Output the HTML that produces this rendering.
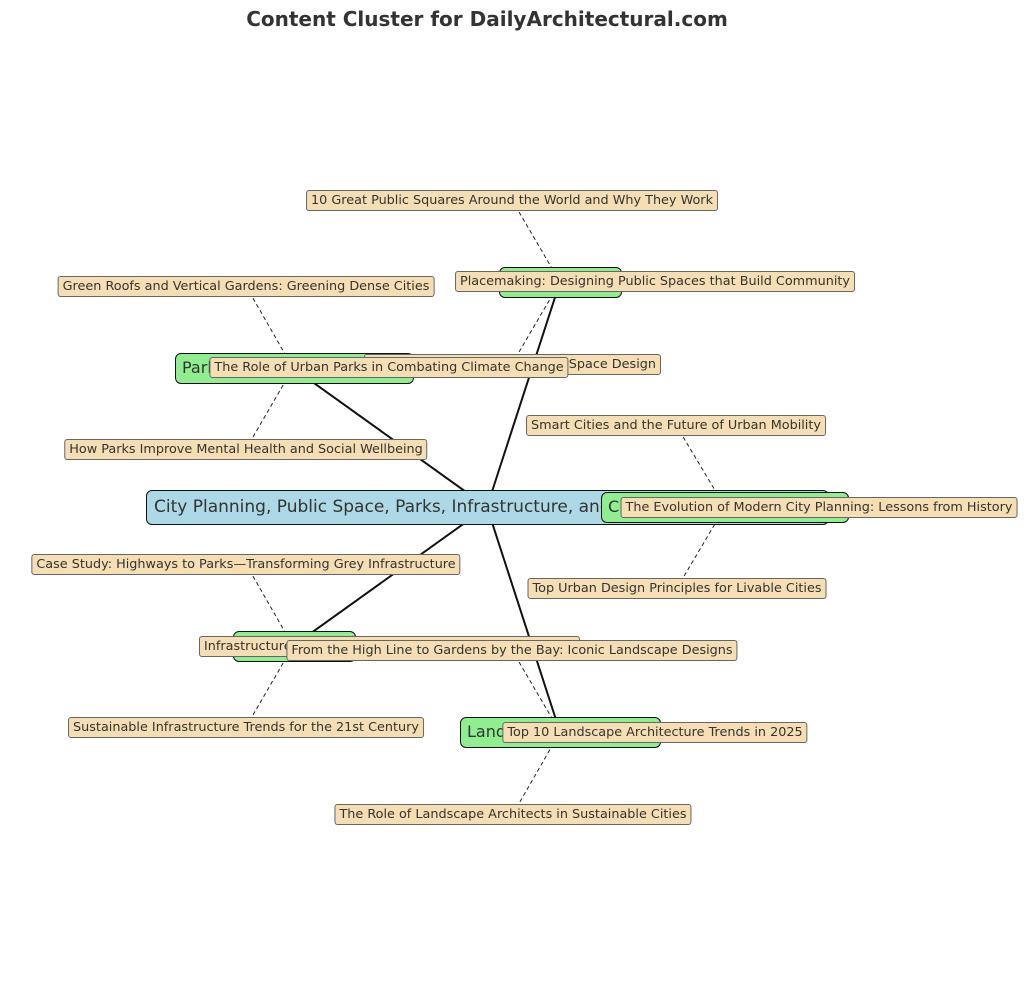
<!DOCTYPE html>
<html><head><meta charset="utf-8"><style>
body{margin:0;background:#fff;width:1024px;height:991px;position:relative;overflow:hidden;font-family:"DejaVu Sans","Liberation Sans",sans-serif;color:#333}
.t{position:absolute;left:0;width:974px;top:7px;text-align:center;font-weight:bold;font-size:20px;color:#333}
.b{position:absolute;box-sizing:border-box;white-space:nowrap;overflow:hidden}
.a{background:#f5deb3;border:1px solid #666;border-radius:3px;font-size:12.8px;height:21px;line-height:19px;padding:0 4px;transform:translateX(-50%)}
.a2{background:#f5deb3;border:1px solid #666;border-radius:3px;font-size:12.8px;height:21px;line-height:19px;padding:0 4px}
.g{background:#90ee90;border:1.5px solid #111;border-radius:6px;font-size:16px;height:31px;line-height:28px;padding:0 6px}
.c{background:#add8e6;border:1.5px solid #111;border-radius:6px;font-size:17px;height:35px;line-height:32px;padding:0 7px}
svg{position:absolute;left:0;top:0}
</style></head><body>
<div class="t">Content Cluster for DailyArchitectural.com</div>
<svg width="1024" height="991">
<g stroke="#111" stroke-width="2">
<line x1="487" y1="507" x2="293" y2="368"/><line x1="487" y1="507" x2="560" y2="282"/>
<line x1="487" y1="507" x2="725" y2="507"/><line x1="487" y1="507" x2="293" y2="646"/>
<line x1="487" y1="507" x2="560" y2="732"/></g>
<g stroke="#222" stroke-width="1" stroke-dasharray="4,3">
<line x1="246" y1="286" x2="293" y2="368"/><line x1="246" y1="449" x2="293" y2="368"/>
<line x1="512" y1="200" x2="560" y2="282"/><line x1="512" y1="364" x2="560" y2="282"/>
<line x1="676" y1="425" x2="725" y2="507"/><line x1="677" y1="588" x2="725" y2="507"/>
<line x1="246" y1="564" x2="293" y2="646"/><line x1="246" y1="727" x2="293" y2="646"/>
<line x1="512" y1="650" x2="560" y2="732"/><line x1="513" y1="814" x2="560" y2="732"/>
</g></svg>
<div class="b c" style="left:146px;top:490px;width:683px">City Planning, Public Space, Parks, Infrastructure, and Landscape</div>
<div class="b g" style="left:175px;top:353px;width:239px">Parks and Green Spaces</div>
<div class="b g" style="left:499px;top:267px;width:123px">Public Space</div>
<div class="b g" style="left:601px;top:492px;width:248px">City Planning</div>
<div class="b g" style="left:233px;top:631px;width:123px">Infrastructure</div>
<div class="b g" style="left:460px;top:717px;width:201px">Landscape Architecture</div>

<div class="b a" style="left:246px;top:276px">Green Roofs and Vertical Gardens: Greening Dense Cities</div>
<div class="b a" style="left:246px;top:439px">How Parks Improve Mental Health and Social Wellbeing</div>
<div class="b a" style="left:512px;top:190px">10 Great Public Squares Around the World and Why They Work</div>
<div class="b a2" style="left:364px;top:354px;width:297px;text-align:right">Inclusive Public Space Design</div>
<div class="b a" style="left:389px;top:357px">The Role of Urban Parks in Combating Climate Change</div>
<div class="b a" style="left:655px;top:271px">Placemaking: Designing Public Spaces that Build Community</div>
<div class="b a" style="left:676px;top:415px">Smart Cities and the Future of Urban Mobility</div>
<div class="b a" style="left:677px;top:578px">Top Urban Design Principles for Livable Cities</div>
<div class="b a" style="left:819px;top:497px">The Evolution of Modern City Planning: Lessons from History</div>
<div class="b a" style="left:246px;top:554px">Case Study: Highways to Parks—Transforming Grey Infrastructure</div>
<div class="b a" style="left:246px;top:717px">Sustainable Infrastructure Trends for the 21st Century</div>
<div class="b a2" style="left:199px;top:636px;width:381px">Infrastructure as Public Space: Bridges and Beyond</div>
<div class="b a" style="left:512px;top:640px">From the High Line to Gardens by the Bay: Iconic Landscape Designs</div>
<div class="b a" style="left:513px;top:804px">The Role of Landscape Architects in Sustainable Cities</div>
<div class="b a" style="left:655px;top:722px">Top 10 Landscape Architecture Trends in 2025</div>
</body></html>
